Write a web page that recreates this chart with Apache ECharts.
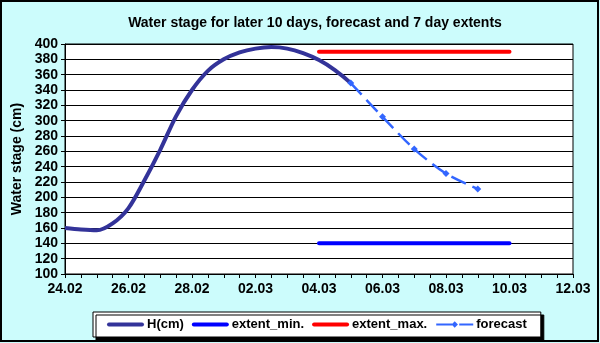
<!DOCTYPE html>
<html>
<head>
<meta charset="utf-8">
<script src="https://cdn.jsdelivr.net/npm/echarts@6/dist/echarts.min.js"></script>
<style>
  html, body { margin: 0; padding: 0; }
  #chart { width: 600px; height: 343px; }
</style>
</head>
<body>
<div id="chart"></div>
<script>
// days counted from 24.02
const dateLabels = ["24.02", "26.02", "28.02", "02.03", "04.03", "06.03", "08.03", "10.03", "12.03"];

const hDays = [0, 0.5, 1, 1.5, 2, 2.5, 3, 3.5, 4, 4.5, 5, 5.5, 6, 6.5, 7, 7.5, 8, 8.5, 9];
const hValues = [160, 158, 157, 166, 186, 222, 262, 306, 340, 365, 380, 389, 394, 396, 394, 388, 379, 366, 349];

const forecastDays = [9, 10, 11, 12, 13];
const forecastValues = [349, 305, 263, 231, 211];

const extentDays = [8, 14];
const extentMin = [140, 140];
const extentMax = [390, 390];

const pairs = (xs, ys) => xs.map((x, i) => [x, ys[i]]);

const font = "Liberation Sans, Arial, sans-serif";
// plain line legend icon (stray points keep the box 37x8 so the bar stays 4px thick)
const lineIcon = "path://M0,0L0,0M2,2L35,2A2,2,0,0,1,35,6L2,6A2,2,0,0,1,2,2ZM37,8L37,8";

let chart = echarts.init(document.getElementById("chart"));
chart.setOption({
  backgroundColor: "#ccfcfc",
  animation: false,
  title: {
    text: "Water stage for later 10 days, forecast and 7 day extents",
    left: 310,
    textAlign: "center",
    top: 11,
    textStyle: { fontFamily: font, fontSize: 14, fontWeight: "bold", color: "#000" }
  },
  grid: {
    left: 65,
    right: 27,
    top: 44,
    bottom: 69,
    show: true,
    backgroundColor: "#fff",
    borderColor: "#000",
    borderWidth: 1
  },
  legend: {
    left: 93,
    top: 312,
    width: 456,
    padding: [6, 14, 6, 14],
    itemGap: 8,
    itemWidth: 37,
    itemHeight: 8,
    backgroundColor: "#fff",
    borderColor: "#000",
    borderWidth: 1,
    shadowColor: "#000",
    shadowBlur: 0,
    shadowOffsetX: 3,
    shadowOffsetY: 3,
    textStyle: { fontFamily: font, fontSize: 13, fontWeight: "bold", color: "#000", padding: [0, 0, 0, -2] },
    data: [
      { name: "H(cm)", icon: lineIcon },
      { name: "extent_min.", icon: lineIcon },
      { name: "extent_max.", icon: lineIcon },
      "forecast"
    ]
  },
  xAxis: {
    type: "value",
    min: 0,
    max: 16,
    interval: 0.5,
    splitLine: { show: false },
    axisLine: { lineStyle: { color: "#000", width: 1 } },
    axisTick: { length: 4, lineStyle: { color: "#000" } },
    axisLabel: {
      margin: 8,
      fontFamily: font,
      fontSize: 14,
      fontWeight: "bold",
      color: "#000",
      formatter: function (v) {
        if (v % 2 !== 0) return "";
        return dateLabels[v / 2] || "";
      }
    }
  },
  yAxis: {
    type: "value",
    min: 100,
    max: 400,
    interval: 20,
    name: "Water stage (cm)",
    nameLocation: "middle",
    nameGap: 40,
    nameTextStyle: { fontFamily: font, fontSize: 14, fontWeight: "bold", color: "#000" },
    axisLine: { show: true, lineStyle: { color: "#000", width: 1 } },
    axisTick: { show: true, length: 4, lineStyle: { color: "#000" } },
    splitLine: { lineStyle: { color: "#000", width: 1 } },
    axisLabel: { margin: 7, fontFamily: font, fontSize: 14, fontWeight: "bold", color: "#000" }
  },
  series: [
    {
      name: "forecast",
      type: "line",
      data: pairs(forecastDays, forecastValues),
      smooth: 0.3,
      symbol: "diamond",
      symbolSize: 7,
      itemStyle: { color: "#3366ff" },
      lineStyle: { color: "#3366ff", width: 2.5, type: [16, 7] }
    },
    {
      name: "H(cm)",
      type: "line",
      data: pairs(hDays, hValues),
      smooth: 0.3,
      symbol: "none",
      itemStyle: { color: "#333399" },
      lineStyle: { color: "#333399", width: 4 }
    },
    {
      name: "extent_min.",
      type: "line",
      data: pairs(extentDays, extentMin),
      symbol: "none",
      itemStyle: { color: "#0000ff" },
      lineStyle: { color: "#0000ff", width: 4, cap: "round" }
    },
    {
      name: "extent_max.",
      type: "line",
      data: pairs(extentDays, extentMax),
      symbol: "none",
      itemStyle: { color: "#ff0000" },
      lineStyle: { color: "#ff0000", width: 4, cap: "round" }
    }
  ],
  graphic: [
    {
      type: "rect",
      silent: true,
      z: 100,
      shape: { x: 1, y: 1, width: 597, height: 340 },
      style: { fill: null, stroke: "#000", lineWidth: 2 }
    }
  ]
});
</script>
</body>
</html>
